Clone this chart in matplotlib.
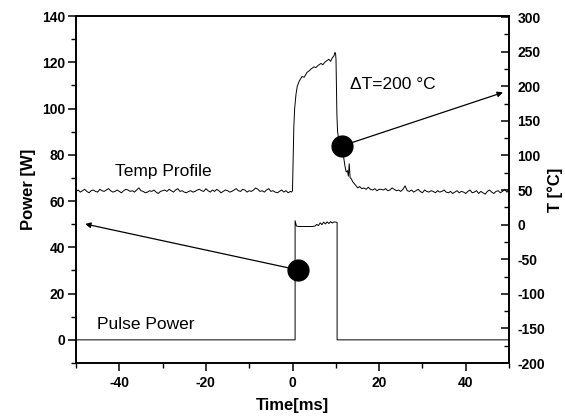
import numpy as np
import matplotlib
matplotlib.use("Agg")
import matplotlib.pyplot as plt
from matplotlib.ticker import MultipleLocator

plt.rcParams['font.family'] = ['Liberation Sans', 'DejaVu Sans']
plt.rcParams['axes.unicode_minus'] = False

# ---------------- data ----------------
# pulse power [W]
power_t = [-50, 0.6, 0.6, 0.9, 1.5, 2.5, 3.5, 4.5, 5.2, 5.6, 6.0, 6.4, 6.8, 7.2,
           7.6, 8.0, 8.4, 8.8, 9.2, 9.6, 10.3, 10.3, 50]
power_w = [0, 0, 51.5, 49.2, 49.0, 49.0, 49.0, 49.0, 49.2, 49.9, 49.4, 50.6, 49.8,
           50.9, 50.1, 51.0, 50.3, 51.1, 50.5, 51.0, 50.8, 0, 0]

# temperature profile [deg C]
temp_pre_t = np.arange(-50.0, -0.25, 0.5)
temp_pre = [48, 50, 47, 49, 51, 48, 46, 49, 50, 48,
            47, 51, 49, 48, 50, 52, 49, 47, 48, 50,
            48, 46, 49, 51, 50, 48, 49, 47, 50, 53,
            49, 48, 46, 47, 49, 48, 50, 47, 45, 48,
            49, 50, 48, 51, 49, 47, 50, 52, 48, 49,
            47, 46, 48, 49, 47, 48, 50, 51, 49, 48,
            52, 49, 47, 50, 48, 51, 49, 46, 48, 50,
            49, 47, 48, 50, 52, 49, 48, 51, 50, 47,
            49, 48, 50, 53, 51, 48, 49, 47, 50, 52,
            48, 49, 47, 46, 48, 50, 47, 49, 46, 48]

temp_pulse_t = [-0.2, 0.0, 0.15, 0.3, 0.5, 0.8, 1.1, 1.6, 2.2, 2.7, 3.35, 3.8, 4.3,
                4.97, 5.4, 5.9, 6.6, 7.0, 7.5, 7.97, 8.4, 8.8, 9.2, 9.58, 9.8, 9.95,
                10.05, 10.15, 10.25, 10.4, 10.7, 11.0, 11.4, 11.8, 12.1, 12.4, 12.7,
                12.9, 13.1, 13.3, 13.6, 13.9, 14.3, 14.7, 15.1, 15.5, 16.0, 16.5,
                17.0, 17.5, 18.0, 18.5, 19.0, 19.5, 20.0]
temp_pulse = [47, 49, 95, 140, 168, 188, 200, 208, 214, 213, 220, 222, 225,
              228, 227, 230, 233, 231, 235, 237, 239, 236, 241, 244, 249, 247,
              238, 200, 160, 135, 122, 116, 108, 98, 85, 76, 78,
              70, 88, 68, 66, 62, 59, 56, 53, 55, 52, 53,
              51, 54, 51, 50, 52, 49, 51]

temp_post_t = np.arange(20.5, 50.25, 0.5)
temp_post = [51, 50, 52, 49, 50, 53, 51, 49, 50, 48,
             51, 56, 49, 48, 50, 47, 49, 51, 48, 46,
             50, 48, 47, 49, 48, 46, 49, 47, 48, 50,
             47, 46, 48, 45, 47, 49, 46, 48, 47, 45,
             48, 50, 46, 47, 49, 45, 48, 46, 44, 48,
             50, 47, 45, 48, 49, 46, 48, 51, 47, 49]

temp_t = list(temp_pre_t) + temp_pulse_t + list(temp_post_t)
temp_v = temp_pre + temp_pulse + temp_post

# annotation points
dot_power = (1.35, 30.2)        # on power axis
arrow_power_to = (-47.9, 50.1)
dot_temp = (11.4, 113.7)        # on temperature axis
arrow_temp_to = (48.6, 191.0)

x_ticks = [-40, -20, 0, 20, 40]
yl_ticks = [0, 20, 40, 60, 80, 100, 120, 140]
yr_ticks = [-200, -150, -100, -50, 0, 50, 100, 150, 200, 250, 300]

# ---------------- figure ----------------
fig = plt.figure(figsize=(5.65, 4.19), dpi=100)
ax = fig.add_axes([76 / 565, 1 - 363 / 419, 433 / 565, 347 / 419])
ax2 = ax.twinx()

ax.plot(power_t, power_w, color='black', lw=0.7)
ax2.plot(temp_t, temp_v, color='black', lw=0.7)

ax.set_xlim(-50, 50)
ax.set_ylim(-10, 140)
ax2.set_ylim(-196, 301.5)

ax.set_xticks(x_ticks)
ax.xaxis.set_minor_locator(MultipleLocator(10))
ax.set_yticks(yl_ticks)
ax.yaxis.set_minor_locator(MultipleLocator(10))
ax2.set_yticks(yr_ticks)
ax2.yaxis.set_minor_locator(MultipleLocator(25))

ax.tick_params(axis='both', which='major', direction='out', length=6, width=1.1,
               labelsize=10, pad=2)
ax.tick_params(axis='both', which='minor', direction='out', length=3.5, width=1.0)
ax.tick_params(axis='x', which='major', pad=3)
ax.tick_params(top=False, right=False, which='both')
ax2.tick_params(axis='y', which='major', direction='in', length=6, width=1.1,
                labelsize=10, pad=6)
ax2.tick_params(axis='y', which='minor', direction='in', length=3.5, width=1.0)

for lab in ax.get_xticklabels() + ax.get_yticklabels() + ax2.get_yticklabels():
    lab.set_fontweight('bold')

for a in (ax, ax2):
    for sp in a.spines.values():
        sp.set_linewidth(1.2)

ax.set_xlabel('Time[ms]', fontsize=12, fontweight='bold', labelpad=6)
ax.set_ylabel('Power [W]', fontsize=12, fontweight='bold', labelpad=4)
ax2.set_ylabel('T [°C]', fontsize=12, fontweight='bold', labelpad=2)

# texts
ax.text(-41.0, 72.7, 'Temp Profile', fontsize=12.5, va='center', ha='left')
ax.text(-45.2, 6.5, 'Pulse Power', fontsize=12.5, va='center', ha='left')
ax.text(13.3, 110.6, 'ΔT=200 °C', fontsize=12.5, va='center', ha='left')

# arrows and dots
ax.annotate('', xy=arrow_power_to, xytext=dot_power,
            arrowprops=dict(arrowstyle='-|>', color='black', lw=0.9,
                            mutation_scale=8, shrinkA=0, shrinkB=0))
ax.plot([dot_power[0]], [dot_power[1]], 'o', color='black', markersize=15, zorder=5)
ax2.annotate('', xy=arrow_temp_to, xytext=dot_temp,
             arrowprops=dict(arrowstyle='-|>', color='black', lw=0.9,
                             mutation_scale=8, shrinkA=0, shrinkB=0))
ax2.plot([dot_temp[0]], [dot_temp[1]], 'o', color='black', markersize=15, zorder=5)

fig.savefig('out.png', dpi=100)
